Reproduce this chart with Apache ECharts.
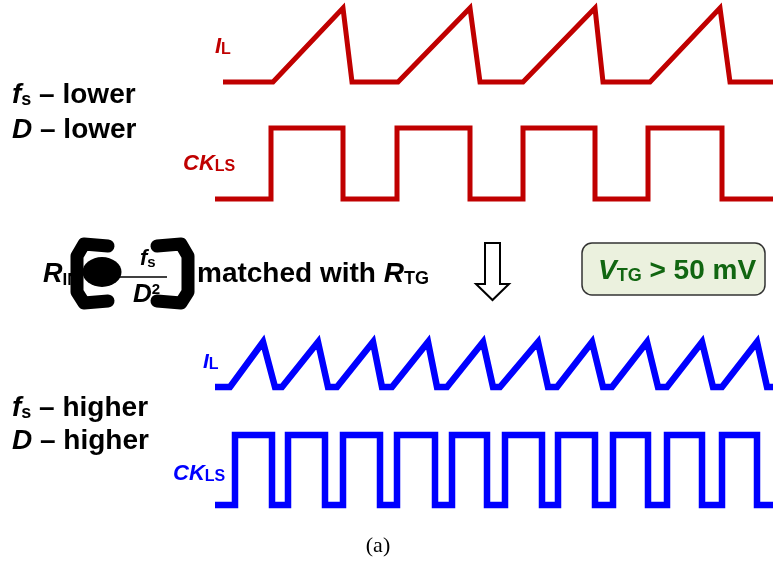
<!DOCTYPE html>
<html>
<head>
<meta charset="utf-8">
<script src="https://cdn.jsdelivr.net/npm/echarts@6/dist/echarts.min.js"></script>
<style>
html, body { margin: 0; padding: 0; background: #fff; }
#main { width: 773px; height: 564px; }
</style>
</head>
<body>
<div id="main"></div>
<script>
// shared time axis (0..773), level 0 = low, 1 = high
var waveStart = 215
var waveEnd = 773

// fs lower, D lower
var redIlTime = [223, 273, 343, 352, 398, 470, 480, 523, 595, 603, 650, 720, 730, 773]
var redIlLevel = [0, 0, 1, 0, 0, 1, 0, 0, 1, 0, 0, 1, 0, 0]
var redCkRise = [271, 397, 523, 648]
var redCkFall = [343, 470, 595, 722]

// fs higher, D higher
var blueIlTime = [215, 230, 263, 275, 282, 318, 328, 337, 373, 382, 392, 428, 437, 447, 483, 493,
  500, 538, 548, 557, 592, 603, 612, 647, 658, 667, 702, 713, 722, 757, 767, 773]
var blueIlLevel = [0, 0, 1, 0, 0, 1, 0, 0, 1, 0, 0, 1, 0, 0, 1, 0,
  0, 1, 0, 0, 1, 0, 0, 1, 0, 0, 1, 0, 0, 1, 0, 0]
var blueCkRise = [235, 288, 343, 397, 452, 505, 558, 613, 667, 722]
var blueCkFall = [272, 325, 380, 435, 487, 542, 595, 648, 702, 757]

function pairs(t, v) {
  return t.map(function (x, i) { return [x, v[i]] })
}
function square(rise, fall) {
  var d = [[waveStart, 0]]
  rise.forEach(function (r, i) {
    d.push([r, 0], [r, 1], [fall[i], 1], [fall[i], 0])
  })
  d.push([waveEnd, 0])
  return d
}

var RED = '#c00000'
var BLUE = '#0000ff'
var SANS = '"Liberation Sans", Arial, sans-serif'

function wave(idx, data, color, width) {
  return {
    type: 'line',
    xAxisIndex: idx,
    yAxisIndex: idx,
    data: data,
    showSymbol: false,
    clip: false,
    silent: true,
    lineStyle: { color: color, width: width, join: 'miter' },
  }
}

// label with italic main part and a subscript
function subLabel(x, y, main, sub, size, subSize, color, tail) {
  var text = '{m|' + main + '}{s|' + sub + '}' + (tail ? '{t|' + tail + '}' : '')
  return {
    type: 'text',
    x: x,
    y: y,
    silent: true,
    style: {
      text: text,
      fill: color,
      textAlign: 'left',
      verticalAlign: 'middle',
      rich: {
        m: { fontFamily: SANS, fontStyle: 'italic', fontWeight: 'bold', fontSize: size, lineHeight: size, verticalAlign: 'bottom' },
        s: { fontFamily: SANS, fontWeight: 'bold', fontSize: subSize, lineHeight: Math.round(subSize * 0.6), verticalAlign: 'bottom' },
        t: { fontFamily: SANS, fontWeight: 'bold', fontSize: size, lineHeight: size, verticalAlign: 'bottom' },
      },
    },
  }
}

var grids = [
  { left: 0, right: 0, top: 8, height: 74 },
  { left: 0, right: 0, top: 128, height: 71 },
  { left: 0, right: 0, top: 342, height: 45 },
  { left: 0, right: 0, top: 435, height: 70 },
]

var option = {
  animation: false,
  grid: grids,
  xAxis: grids.map(function (g, i) {
    return { type: 'value', gridIndex: i, min: 0, max: 773, show: false }
  }),
  yAxis: grids.map(function (g, i) {
    return { type: 'value', gridIndex: i, min: 0, max: 1, show: false }
  }),
  series: [
    wave(0, pairs(redIlTime, redIlLevel), RED, 5),
    wave(1, square(redCkRise, redCkFall), RED, 5),
    wave(2, pairs(blueIlTime, blueIlLevel), BLUE, 6.5),
    wave(3, square(blueCkRise, blueCkFall), BLUE, 6.5),
  ],
  graphic: [
    subLabel(215, 47, 'I', 'L', 22, 16, RED),
    subLabel(183, 164, 'CK', 'LS', 22, 16, RED),
    subLabel(203, 362, 'I', 'L', 21, 16, BLUE),
    subLabel(173, 474, 'CK', 'LS', 22, 16, BLUE),

    subLabel(12, 95, 'f', 's', 28, 18, '#000', ' \u2013 lower'),
    subLabel(12, 130, 'D', '', 28, 18, '#000', ' \u2013 lower'),
    subLabel(12, 408, 'f', 's', 28, 18, '#000', ' \u2013 higher'),
    subLabel(12, 441, 'D', '', 28, 18, '#000', ' \u2013 higher'),

    // R_IN ( f_s / D^2 ) matched with R_TG
    subLabel(43, 275, 'R', 'IN', 27, 17, '#000'),
    {
      type: 'polyline', silent: true,
      shape: { points: [[108, 246], [84, 244], [77, 256], [77, 292], [84, 303], [108, 301]] },
      style: { stroke: '#000', lineWidth: 13, fill: null, lineJoin: 'round', lineCap: 'round' },
    },
    {
      type: 'circle', silent: true, x: 102, y: 272, scaleX: 1.3,
      shape: { cx: 0, cy: 0, r: 15 },
      style: { fill: '#000' },
    },
    {
      type: 'polyline', silent: true,
      shape: { points: [[157, 246], [181, 244], [188, 256], [188, 292], [181, 303], [157, 301]] },
      style: { stroke: '#000', lineWidth: 13, fill: null, lineJoin: 'round', lineCap: 'round' },
    },
    subLabel(140, 259, 'f', 's', 22, 15, '#000'),
    {
      type: 'line', silent: true,
      shape: { x1: 120, y1: 277, x2: 167, y2: 277 },
      style: { stroke: '#000', lineWidth: 1.5 },
    },
    {
      type: 'text', x: 133, y: 295, silent: true,
      style: {
        text: '{m|D}{p|2}',
        fill: '#000',
        verticalAlign: 'middle',
        rich: {
          m: { fontFamily: SANS, fontStyle: 'italic', fontWeight: 'bold', fontSize: 26, lineHeight: 26, verticalAlign: 'bottom' },
          p: { fontFamily: SANS, fontWeight: 'bold', fontSize: 15, lineHeight: 12, verticalAlign: 'top' },
        },
      },
    },
    {
      type: 'text', x: 197, y: 274, silent: true,
      style: {
        text: '{t|matched with }{m|R}{s|TG}',
        fill: '#000',
        verticalAlign: 'middle',
        rich: {
          t: { fontFamily: SANS, fontWeight: 'bold', fontSize: 28, lineHeight: 28, verticalAlign: 'bottom' },
          m: { fontFamily: SANS, fontStyle: 'italic', fontWeight: 'bold', fontSize: 28, lineHeight: 28, verticalAlign: 'bottom' },
          s: { fontFamily: SANS, fontWeight: 'bold', fontSize: 18, lineHeight: 10, verticalAlign: 'bottom' },
        },
      },
    },

    // hollow down arrow
    {
      type: 'polygon', silent: true,
      shape: { points: [[485, 243], [500, 243], [500, 284], [509, 284], [492.5, 300], [476, 284], [485, 284]] },
      style: { fill: '#fff', stroke: '#000', lineWidth: 2 },
    },

    // VTG box
    {
      type: 'rect', silent: true,
      shape: { x: 582, y: 243, width: 183, height: 52, r: 10 },
      style: { fill: '#ebf1de', stroke: '#333', lineWidth: 1.5 },
    },
    subLabel(598, 271, 'V', 'TG', 28, 18, '#116611', ' > 50 mV'),

    {
      type: 'text', x: 378, y: 546, silent: true,
      style: {
        text: '(a)',
        fill: '#000',
        font: '22px "Liberation Serif", "Times New Roman", serif',
        textAlign: 'center',
        verticalAlign: 'middle',
      },
    },
  ],
}

var chart = echarts.init(document.getElementById('main'))
chart.setOption(option)
</script>
</body>
</html>
